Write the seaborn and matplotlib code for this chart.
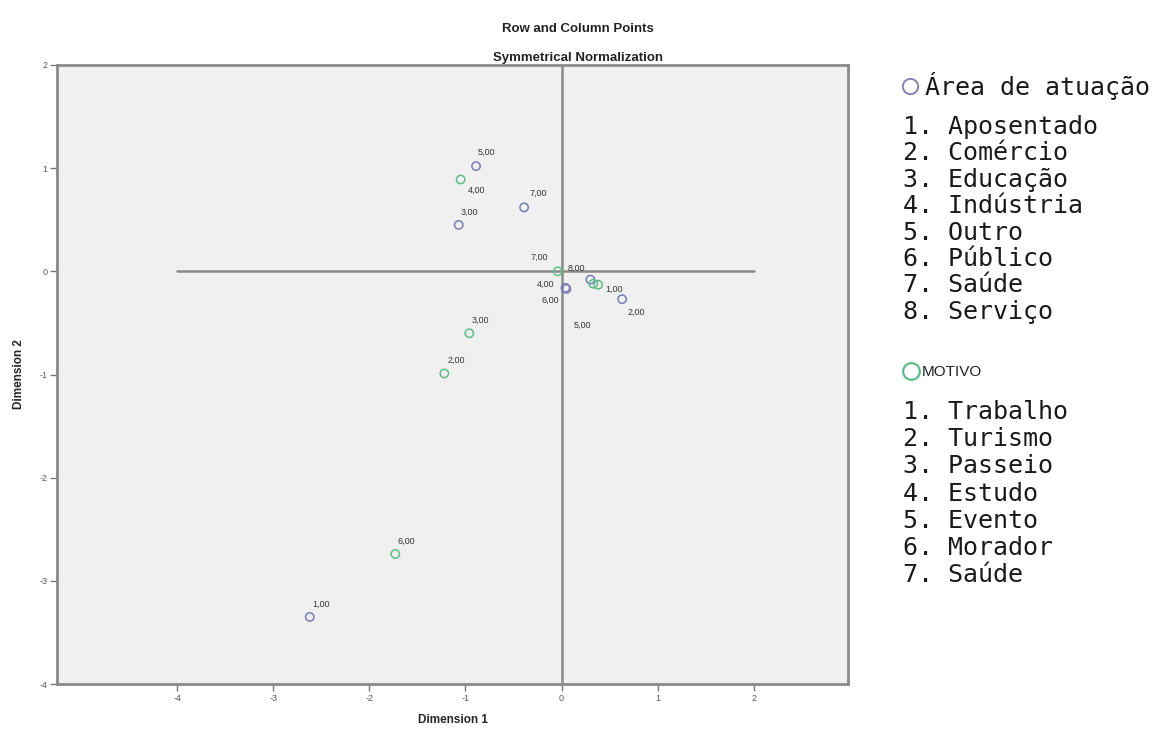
import matplotlib
matplotlib.use("Agg")
import matplotlib.pyplot as plt
from matplotlib.lines import Line2D
import seaborn as sns
import pandas as pd

# Row points: Área de atuação
row_codes = ["1,00", "2,00", "3,00", "4,00", "5,00", "6,00", "7,00", "8,00"]
row_dim1 = [-2.62, 0.63, -1.07, 0.04, -0.89, 0.05, -0.39, 0.30]
row_dim2 = [-3.35, -0.27, 0.45, -0.16, 1.02, -0.17, 0.62, -0.08]
row_names = ["Aposentado", "Comércio", "Educação", "Indústria",
             "Outro", "Público", "Saúde", "Serviço"]

# Column points: MOTIVO
col_codes = ["1,00", "2,00", "3,00", "4,00", "5,00", "6,00", "7,00"]
col_dim1 = [0.38, -1.22, -0.96, -1.05, 0.33, -1.73, -0.04]
col_dim2 = [-0.13, -0.99, -0.60, 0.89, -0.12, -2.74, 0.00]
col_names = ["Trabalho", "Turismo", "Passeio", "Estudo",
             "Evento", "Morador", "Saúde"]

x_ticks = [-4, -3, -2, -1, 0, 1, 2]
y_ticks = [-4, -3, -2, -1, 0, 1, 2]

# label offsets in pixels (dx, dy) for the point annotations
row_offsets = [(11, 13), (14, -13), (11, 13), (-20, 4), (10, 14), (-16, -11), (14, 14), (-14, 11)]
col_offsets = [(16, -5), (12, 13), (11, 13), (16, -11), (-11, -42), (11, 13), (-18, 14)]

ROW_COLOR = "#7c7cb4"
COL_COLOR = "#5fba8a"

sns.set_style("white")
fig = plt.figure(figsize=(11.69, 7.29), dpi=100)
ax = fig.add_axes([57 / 1169, 1 - 684 / 729, (848 - 57) / 1169, (684 - 65) / 729])
ax.set_facecolor("#f0f0f0")

rows = pd.DataFrame({"d1": row_dim1, "d2": row_dim2, "code": row_codes})
cols = pd.DataFrame({"d1": col_dim1, "d2": col_dim2, "code": col_codes})

# reference lines through the origin
ax.axvline(0, color="#8a8a8a", lw=1.8, zorder=1)
ax.plot([-4, 2], [0, 0], color="#8a8a8a", lw=1.8, zorder=1)

for df, color, offs in [(rows, ROW_COLOR, row_offsets), (cols, COL_COLOR, col_offsets)]:
    sns.scatterplot(data=df, x="d1", y="d2", ax=ax, s=36, marker="o",
                    color=color, linewidth=1.1, zorder=3, legend=False)
    coll = ax.collections[-1]
    coll.set_facecolor("none")
    coll.set_edgecolor(color)
    for (x, y, lab), (dx, dy) in zip(df[["d1", "d2", "code"]].itertuples(index=False), offs):
        ax.annotate(lab, (x, y), xytext=(dx, dy), textcoords="offset pixels",
                    ha="center", va="center", fontsize=6.5, color="#333333",
                    family="Liberation Sans")

ax.set_xlim(-5.25, 2.98)
ax.set_ylim(-4, 2)
ax.set_xticks(x_ticks)
ax.set_yticks(y_ticks)
ax.set_xticklabels([str(t) for t in x_ticks], family="Liberation Sans")
ax.set_yticklabels([str(t) for t in y_ticks], family="Liberation Sans")
ax.tick_params(axis="both", direction="out", length=5, width=1, color="#777777",
               labelsize=6.5, labelcolor="#555555", pad=2,
               bottom=True, left=True)
for sp in ax.spines.values():
    sp.set_color("#8a8a8a")
    sp.set_linewidth(2)

ax.set_xlabel("Dimension 1", fontsize=8.5, fontweight="bold", family="Liberation Sans", labelpad=8)
ax.set_ylabel("Dimension 2", fontsize=8.5, fontweight="bold", family="Liberation Sans", labelpad=10)

fig.text(578 / 1169, 1 - 29 / 729, "Row and Column Points", ha="center", va="center",
         fontsize=9.5, fontweight="bold", family="Liberation Sans", color="#222222")
fig.text(578 / 1169, 1 - 58 / 729, "Symmetrical Normalization", ha="center", va="center",
         fontsize=9.5, fontweight="bold", family="Liberation Sans", color="#222222")

# category key on the right
def px(x, y):
    return x / 1169, 1 - y / 729

fig.add_artist(Line2D([px(910, 86)[0]], [px(910, 86)[1]], marker="o", ms=11, mfc="none",
                      mec=ROW_COLOR, mew=1.3, transform=fig.transFigure))
fig.text(*px(925, 86), "Área de atuação", ha="left", va="center", fontsize=18,
         family="DejaVu Sans Mono", color="#1a1a1a")
for i, name in enumerate(row_names):
    fig.text(*px(903, 127 + i * 26.4), f"{i + 1}. {name}", ha="left", va="center",
             fontsize=18, family="DejaVu Sans Mono", color="#1a1a1a")

fig.add_artist(Line2D([px(911, 371)[0]], [px(911, 371)[1]], marker="o", ms=12, mfc="none",
                      mec=COL_COLOR, mew=1.6, transform=fig.transFigure))
fig.text(*px(922, 372), "MOTIVO", ha="left", va="center", fontsize=11,
         family="Liberation Sans", color="#222222")
for i, name in enumerate(col_names):
    fig.text(*px(903, 412 + i * 27.2), f"{i + 1}. {name}", ha="left", va="center",
             fontsize=18, family="DejaVu Sans Mono", color="#1a1a1a")

fig.savefig("out.png", dpi=100, facecolor="white")
